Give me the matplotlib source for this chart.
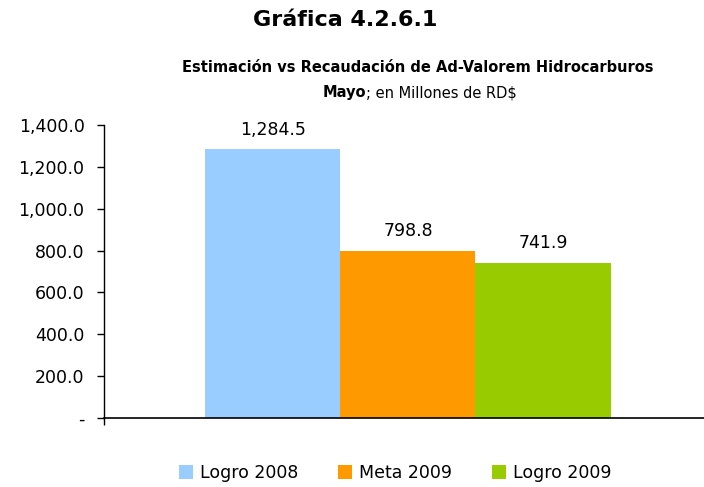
import matplotlib
matplotlib.use("Agg")
import matplotlib.pyplot as plt
from matplotlib.patches import Patch

series = ["Logro 2008", "Meta 2009", "Logro 2009"]
values = [1284.5, 798.8, 741.9]
colors = ["#99CCFF", "#FF9900", "#99CC00"]
yticks = [0, 200, 400, 600, 800, 1000, 1200, 1400]

plt.rcParams['font.family'] = ['DejaVu Sans']

fig = plt.figure(figsize=(7.04, 4.87), dpi=100)
ax = fig.add_axes([104/704, (487-418)/487, 600/704, 293/487])

offsets = [-1, 0, 1]
for off, v, c, s in zip(offsets, values, colors, series):
    ax.bar(off, v, width=1.0, color=c, label=s, linewidth=0)
    ax.text(off, v + 50, f"{v:,.1f}", ha='center', va='bottom', fontsize=12.5)

ax.set_xlim((104-408)/135, (704-408)/135)
ax.set_ylim(0, 1400)
ax.set_yticks(yticks)
ax.set_yticklabels(["-" if t == 0 else f"{t:,.1f}" for t in yticks], fontsize=12.5)
ax.set_xticks([(104-408)/135])
ax.set_xticklabels([""])
ax.tick_params(axis='both', direction='out', length=5, width=1, colors='black')
ax.tick_params(axis='y', pad=9)
for sp in ['top', 'right']:
    ax.spines[sp].set_visible(False)
ax.spines['left'].set_linewidth(1)
ax.spines['bottom'].set_linewidth(1.2)

fig.text(345/704, 1 - 20/487, "Gráfica 4.2.6.1", ha='center', va='center',
         fontsize=16, fontweight='bold')
fig.text(418/704, 1 - 68/487, "Estimación vs Recaudación de Ad-Valorem Hidrocarburos",
         ha='center', va='center', fontsize=10.5, fontweight='bold')
fig.text(323/704, 1 - 93/487, "Mayo", ha='left', va='center', fontsize=10.5, fontweight='bold')
fig.text(366/704, 1 - 93/487, "; en Millones de RD$", ha='left', va='center', fontsize=10.5)

handles = [Patch(facecolor=c, label=s) for c, s in zip(colors, series)]
fig.legend(handles=handles, loc='center', bbox_to_anchor=(395/704, 1 - 473/487),
           ncol=3, frameon=False, fontsize=12.5, handlelength=0.8, handleheight=0.8,
           columnspacing=2.3, handletextpad=0.4)

fig.savefig("out.png", dpi=100)
